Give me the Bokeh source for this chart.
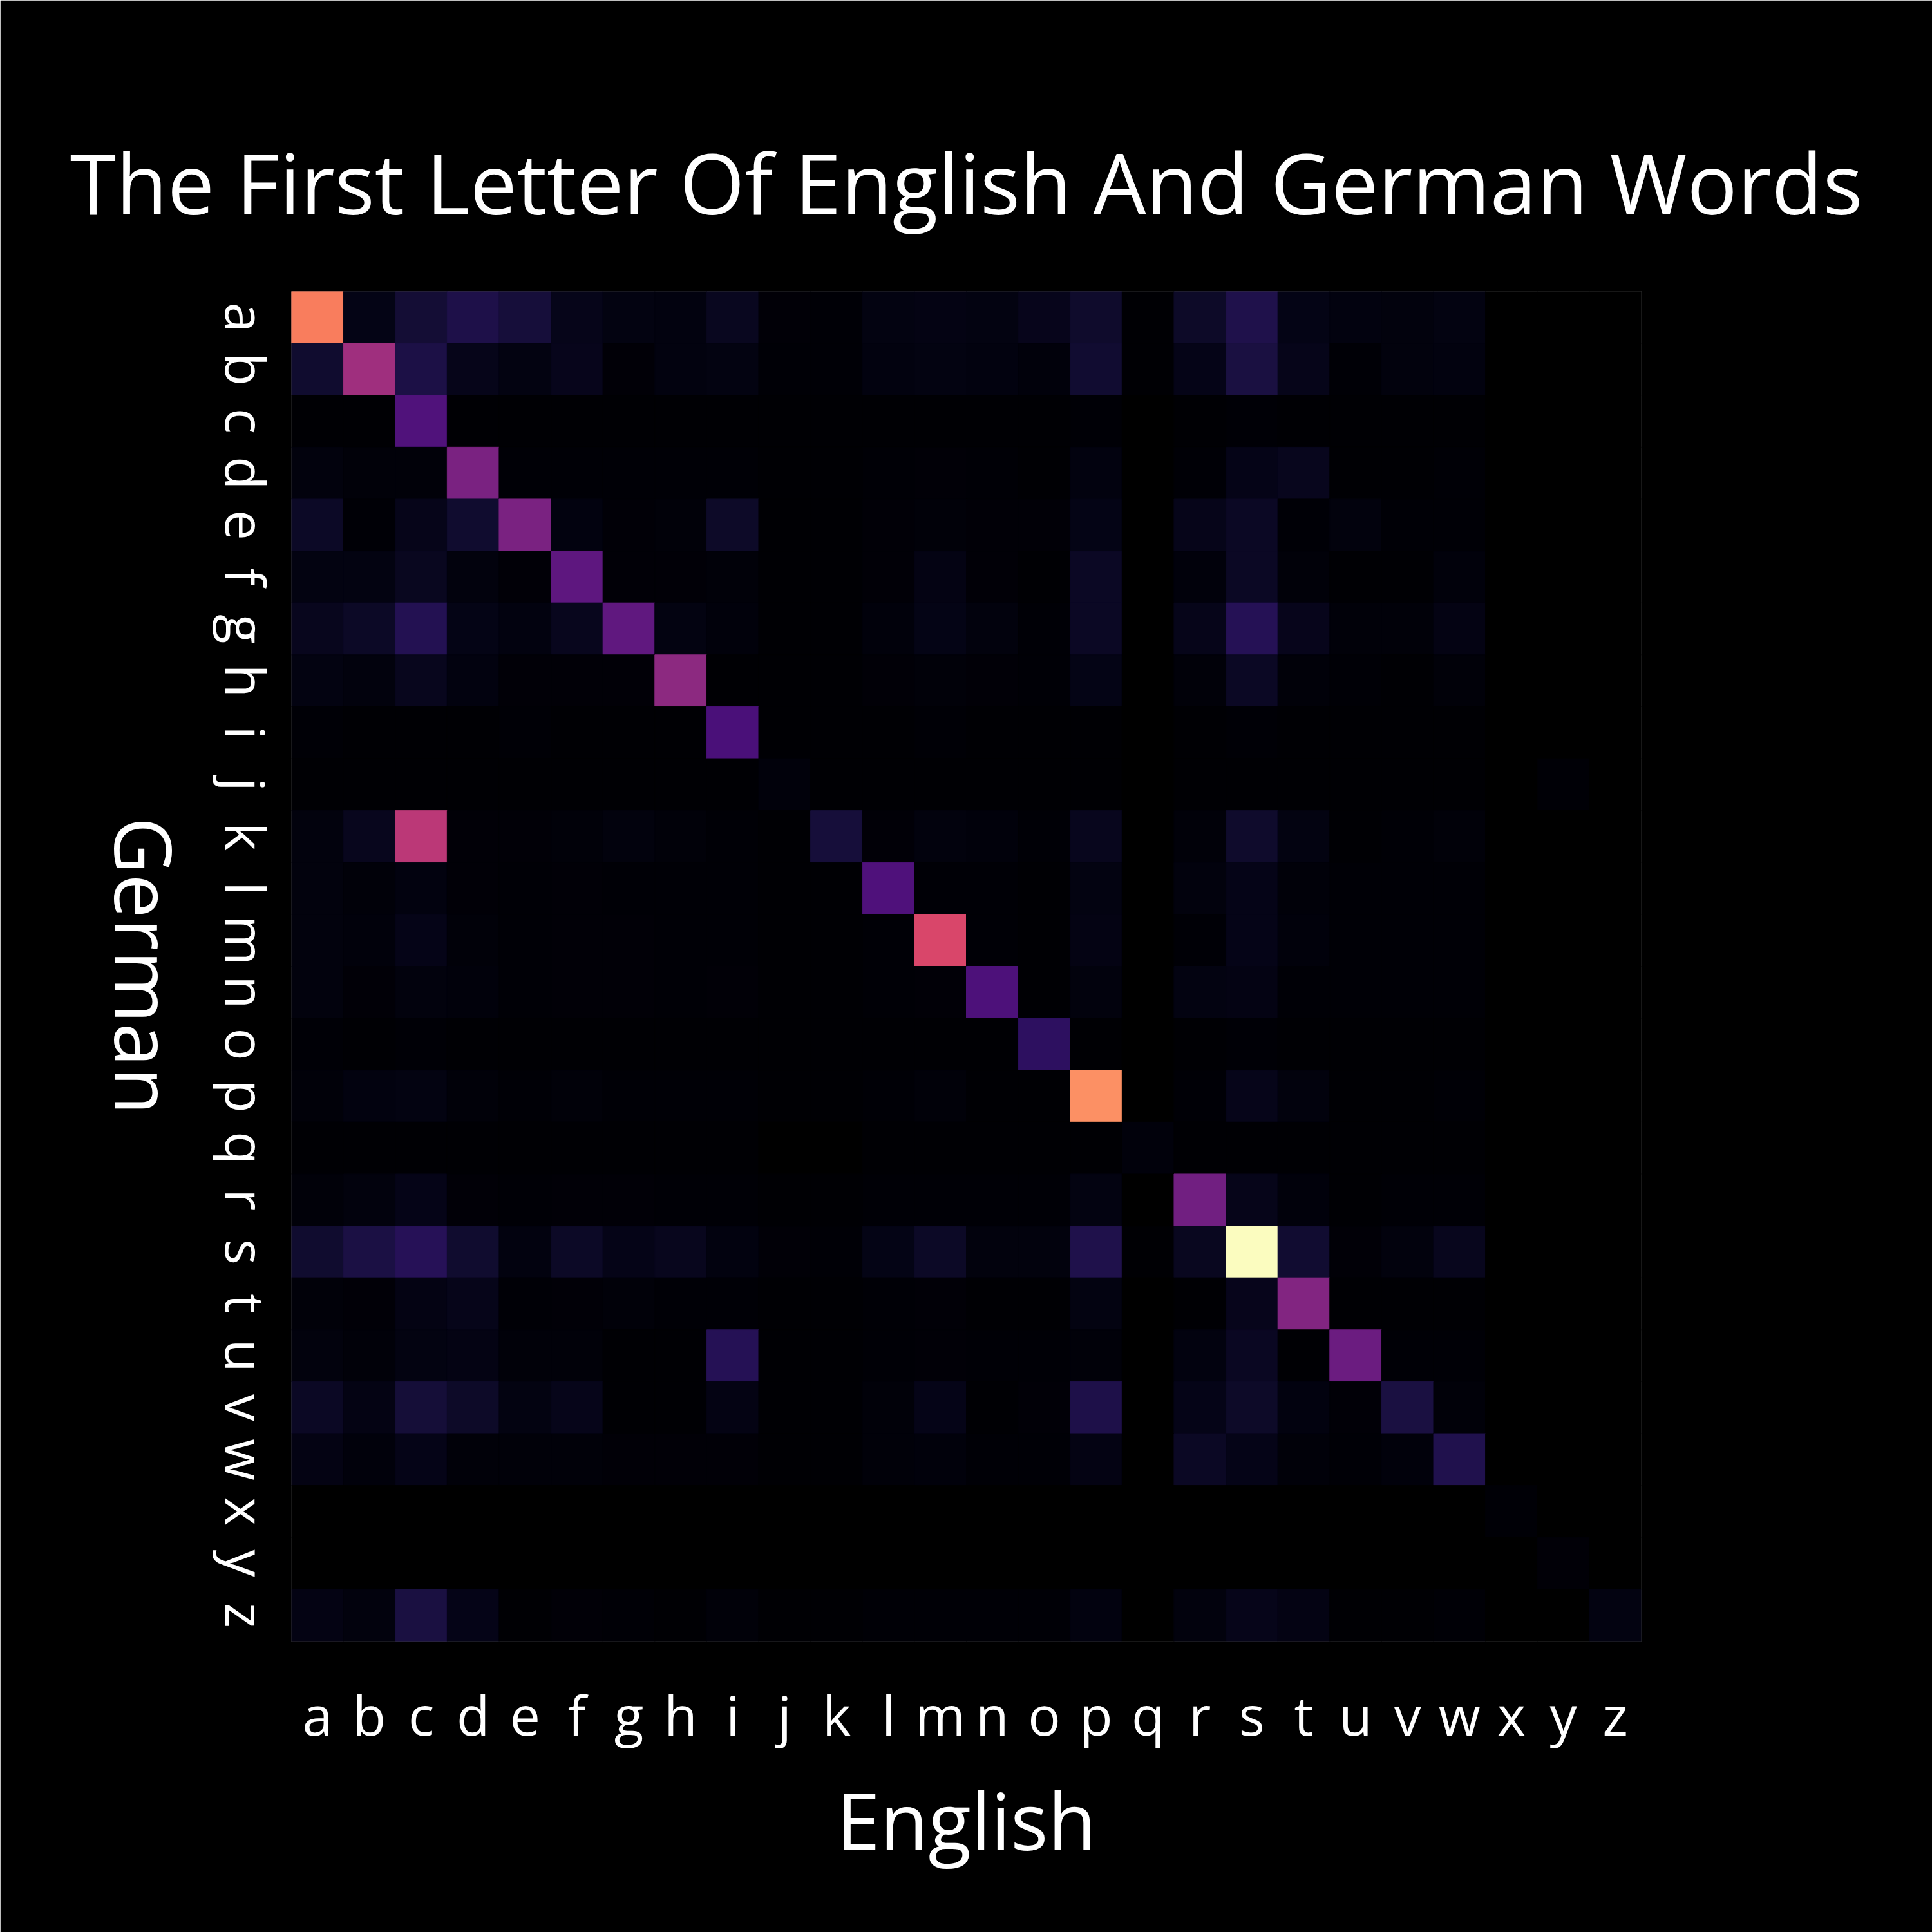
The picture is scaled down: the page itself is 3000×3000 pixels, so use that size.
import math
from bokeh.plotting import figure
from bokeh.models import (FactorRange, ColumnDataSource, LinearAxis, Range1d,
                          FixedTicker)
from bokeh.palettes import Magma256
from bokeh.transform import linear_cmap
from bokeh.embed import file_html
from bokeh.resources import INLINE

# English first letter (columns) and German first letter (rows)
letters = list("abcdefghijklmnopqrstuvwxyz")

# colour intensity per cell (0 = empty, 255 = brightest)
# columns:   a    b    c    d    e    f    g    h    i    j    k    l    m    n    o    p   q    r    s    t    u    v    w   x  y  z
german_a = [186, 10,  25,  33,  27,  12,  8,   7,   15,  3,   2,   8,   9,   8,   13,  21, 1,  19,  34,  10,  7,   6,   8,  0, 0, 0]
german_b = [22,  114, 32,  12,  8,   13,  3,   7,   8,   2,   2,   7,   8,   7,   5,   23, 1,  11,  30,  12,  2,   6,   7,  0, 0, 0]
german_c = [1,   1,   64,  1,   1,   1,   1,   1,   1,   1,   1,   1,   1,   1,   1,   2,  0,  1,   2,   1,   1,   1,   1,  0, 0, 0]
german_d = [6,   4,   4,   91,  2,   2,   2,   2,   2,   1,   1,   2,   3,   2,   1,   7,  0,  2,   11,  14,  1,   1,   2,  0, 0, 0]
german_e = [18,  2,   12,  22,  91,  7,   3,   4,   19,  1,   1,   3,   4,   3,   3,   10, 0,  12,  17,  2,   6,   2,   2,  0, 0, 0]
german_f = [8,   8,   15,  6,   3,   73,  3,   3,   4,   1,   1,   3,   9,   3,   1,   17, 0,  5,   17,  4,   1,   1,   5,  0, 0, 0]
german_g = [14,  18,  37,  10,  7,   14,  74,  8,   5,   1,   1,   5,   10,  6,   2,   17, 0,  12,  38,  13,  4,   4,   9,  0, 0, 0]
german_h = [8,   6,   14,  7,   3,   3,   3,   102, 1,   1,   1,   3,   4,   3,   2,   10, 0,  4,   17,  4,   2,   1,   4,  0, 0, 0]
german_i = [2,   1,   1,   1,   2,   1,   1,   1,   60,  1,   1,   1,   2,   1,   1,   1,  0,  1,   2,   1,   1,   1,   1,  0, 0, 0]
german_j = [1,   1,   1,   1,   1,   1,   1,   1,   1,   5,   1,   1,   1,   1,   1,   1,  0,  1,   1,   1,   1,   1,   1,  0, 2, 0]
german_k = [6,   14,  131, 3,   3,   4,   6,   4,   2,   1,   27,  3,   6,   5,   2,   14, 0,  4,   21,  8,   1,   2,   4,  0, 0, 0]
german_l = [6,   4,   7,   3,   2,   3,   2,   2,   2,   1,   1,   63,  2,   2,   1,   8,  0,  6,   11,  4,   2,   2,   2,  0, 0, 0]
german_m = [6,   5,   11,  4,   2,   3,   3,   2,   2,   1,   1,   2,   150, 2,   1,   9,  0,  2,   11,  5,   2,   2,   2,  0, 0, 0]
german_n = [6,   3,   6,   5,   2,   3,   3,   2,   3,   1,   1,   2,   3,   62,  1,   6,  0,  8,   9,   2,   2,   2,   2,  0, 0, 0]
german_o = [2,   1,   2,   1,   1,   1,   1,   1,   1,   1,   1,   1,   1,   1,   43,  1,  0,  1,   2,   1,   1,   1,   1,  0, 0, 0]
german_p = [4,   7,   8,   4,   2,   4,   2,   2,   2,   1,   1,   2,   4,   1,   1,   196,0,  2,   12,  6,   1,   1,   2,  0, 0, 0]
german_q = [1,   1,   1,   1,   1,   1,   1,   1,   1,   0,   0,   1,   1,   1,   1,   1,  5,  1,   1,   1,   1,   1,   1,  0, 0, 0]
german_r = [4,   6,   11,  3,   2,   3,   3,   2,   2,   1,   1,   2,   2,   2,   2,   8,  0,  85,  12,  5,   1,   2,   2,  0, 0, 0]
german_s = [22,  31,  39,  22,  7,   18,  11,  14,  7,   3,   2,   10,  18,  6,   6,   34, 1,  15,  255, 23,  3,   6,   14, 0, 0, 0]
german_t = [4,   3,   9,   12,  2,   3,   4,   2,   2,   1,   1,   2,   3,   1,   1,   8,  0,  1,   13,  96,  1,   1,   1,  0, 0, 0]
german_u = [6,   4,   8,   9,   4,   4,   1,   1,   38,  1,   1,   2,   3,   2,   2,   4,  0,  7,   16,  1,   81,  2,   2,  0, 0, 0]
german_v = [17,  9,   26,  19,  8,   12,  1,   1,   9,   1,   1,   4,   11,  1,   3,   33, 0,  11,  19,  7,   3,   30,  4,  0, 0, 0]
german_w = [9,   5,   11,  4,   4,   4,   3,   3,   3,   1,   1,   4,   5,   2,   2,   9,  0,  17,  11,  4,   2,   5,   35, 0, 0, 0]
german_x = [0,   0,   0,   0,   0,   0,   0,   0,   0,   0,   0,   0,   0,   0,   0,   0,  0,  0,   0,   0,   0,   0,   0,  2, 0, 0]
german_y = [0,   0,   0,   0,   0,   0,   0,   0,   0,   0,   0,   0,   0,   0,   0,   0,  0,  0,   0,   0,   0,   0,   0,  0, 3, 0]
german_z = [9,   6,   30,  11,  1,   3,   2,   1,   4,   1,   1,   2,   2,   2,   2,   7,  0,  6,   12,  9,   1,   1,   2,  0, 0, 8]

rows = [german_a, german_b, german_c, german_d, german_e, german_f, german_g,
        german_h, german_i, german_j, german_k, german_l, german_m, german_n,
        german_o, german_p, german_q, german_r, german_s, german_t, german_u,
        german_v, german_w, german_x, german_y, german_z]

n = len(letters)

# German rows run top (a) to bottom (z) on a numeric scale 0..n
xs, ys, vs = [], [], []
for k, r in enumerate(rows):
    for e, v in zip(letters, r):
        xs.append(e)
        ys.append(n - k - 0.5)
        vs.append(v)

src = ColumnDataSource(dict(english=xs, german_row=ys, v=vs))

FONT = "Open Sans"
TICK_PX = 84
LABEL_PX = 122
FRAME_PX = 2096

# advance widths (em) of Open Sans glyphs, used to centre the rotated labels
ADV = dict(a=.556, b=.613, c=.476, d=.613, e=.561, f=.339, g=.548, h=.614,
           i=.253, j=.253, k=.525, l=.253, m=.930, n=.614, o=.604, p=.613,
           q=.613, r=.408, s=.477, t=.353, u=.614, v=.501, w=.778, x=.524,
           y=.502, z=.477, G=.713)

p = figure(
    width=3000, height=3000,
    x_range=FactorRange(factors=letters),
    y_range=Range1d(start=0, end=n),
    y_axis_location=None,
    output_backend="svg", toolbar_location=None,
    min_border_left=452, min_border_right=452,
    min_border_top=452, min_border_bottom=452,
    title="The First Letter Of English And German Words",
)

cmap = linear_cmap("v", Magma256, 0.001, 255, low_color="black")
p.rect(x="english", y="german_row", width=1, height=1, source=src,
       fill_color=cmap, line_color=cmap, line_width=1)

p.background_fill_color = "black"
p.border_fill_color = "black"
p.outline_line_color = None
p.grid.grid_line_color = None

p.title.text_color = "white"
p.title.text_font = FONT
p.title.text_font_style = "normal"
p.title.text_font_size = "130px"
p.title.align = "center"
p.title.standoff = 163

xax = p.xaxis[0]
xax.axis_line_color = None
xax.major_tick_line_color = None
xax.minor_tick_line_color = None
xax.major_label_text_color = "white"
xax.major_label_text_font = FONT
xax.major_label_text_font_size = f"{TICK_PX}px"
xax.major_label_standoff = 50
xax.axis_label = "English"
xax.axis_label_text_color = "white"
xax.axis_label_text_font = FONT
xax.axis_label_text_font_style = "normal"
xax.axis_label_text_font_size = f"{LABEL_PX}px"
xax.axis_label_standoff = 20

# ---- German axis on the left: labels read top to bottom (rotated clockwise).
# Bokeh anchors such rotated labels at their end, so each tick is moved
# down by half the label's length to keep the label centred on its row.
unit_px = FRAME_PX / n

def text_len(s, px):
    return sum(ADV.get(ch, 0.6) for ch in s) * px

letter_ticks, letter_over = [], {}
for k, ch in enumerate(letters):
    t = round(n - (k + 0.5) - text_len(ch, TICK_PX) / 2 / unit_px, 4)
    letter_ticks.append(t)
    letter_over[t] = ch

name = "German"
name_tick = round(n / 2 - text_len(name, LABEL_PX) / 2 / unit_px, 4)

letter_axis = LinearAxis(ticker=FixedTicker(ticks=letter_ticks),
                         major_label_overrides=letter_over)
name_axis = LinearAxis(ticker=FixedTicker(ticks=[name_tick]),
                       major_label_overrides={name_tick: name})

for ax, px, stand in ((letter_axis, TICK_PX, 64), (name_axis, LABEL_PX, 34)):
    ax.axis_line_color = None
    ax.major_tick_line_color = None
    ax.minor_tick_line_color = None
    ax.major_label_orientation = -math.pi / 2
    ax.major_label_text_color = "white"
    ax.major_label_text_font = FONT
    ax.major_label_text_font_size = f"{px}px"
    ax.major_label_standoff = stand
    p.add_layout(ax, "left")

open("out.html", "w").write(file_html(p, INLINE))
